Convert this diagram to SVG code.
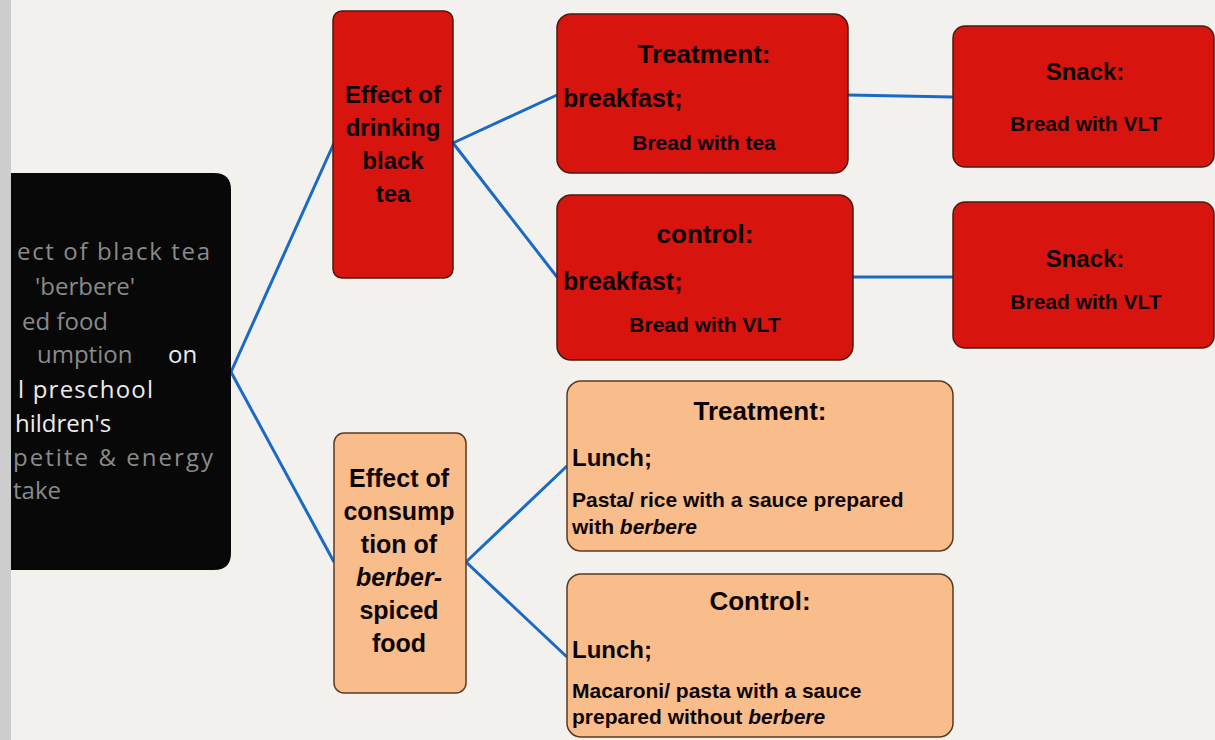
<svg xmlns="http://www.w3.org/2000/svg" width="1215" height="740" viewBox="0 0 1215 740">
<defs>
<style>
.bg{fill:#f3f1ed}
.red{fill:#d8140f;stroke:#4a1a12;stroke-width:1.5}
.org{fill:#f9bd8c;stroke:#5a3a22;stroke-width:1.5}
.t{font-family:"Liberation Sans",Arial,sans-serif;font-weight:bold;fill:#0d0505}
.c{text-anchor:middle}
.w{font-family:"Open Sans","DejaVu Sans",sans-serif;font-size:24px;fill:#8a8a8a}
.wb{fill:#ececec}
.con{stroke:#1a6ac4;stroke-width:3;fill:none}
</style>
</defs>
<rect class="bg" x="0" y="0" width="1215" height="740"/>
<rect x="0" y="0" width="11" height="740" fill="#cdcdcd"/>
<g id="connectors">
<line class="con" x1="231" y1="372" x2="334" y2="143"/>
<line class="con" x1="231" y1="372" x2="334" y2="562"/>
<line class="con" x1="453" y1="143" x2="557" y2="95"/>
<line class="con" x1="453" y1="143" x2="557" y2="277"/>
<line class="con" x1="848" y1="95" x2="953" y2="97"/>
<line class="con" x1="853" y1="277" x2="953" y2="277"/>
<line class="con" x1="466" y1="562" x2="567" y2="466"/>
<line class="con" x1="466" y1="562" x2="567" y2="657"/>
</g>
<g id="root">
<path d="M11 173 H214 Q231 173 231 190 V553 Q231 570 214 570 H11 Z" fill="#080808"/>
<text class="w" x="17" y="260" textLength="193">ect of black tea</text>
<text class="w" x="35" y="295">'berbere'</text>
<text class="w" x="22" y="330">ed food</text>
<text class="w" x="37" y="363">umption</text>
<text class="w wb" x="168" y="363">on</text>
<text class="w wb" x="18" y="398" textLength="135">l preschool</text>
<text class="w wb" x="15" y="432">hildren's</text>
<text class="w" x="13" y="466" textLength="200">petite &amp; energy</text>
<text class="w" x="13" y="499">take</text>
</g>
<g id="tea">
<rect class="red" x="333" y="11" width="120" height="267" rx="9"/>
<text class="t c" x="393" y="103" font-size="24">Effect of</text>
<text class="t c" x="393" y="136" font-size="24">drinking</text>
<text class="t c" x="393" y="169" font-size="24">black</text>
<text class="t c" x="393" y="202" font-size="24">tea</text>
</g>
<g id="tea-treatment">
<rect class="red" x="557" y="14" width="291" height="159" rx="14"/>
<text class="t c" x="704" y="63" font-size="26">Treatment:</text>
<text class="t" x="563" y="107" font-size="25">breakfast;</text>
<text class="t c" x="704" y="150" font-size="21">Bread with tea</text>
</g>
<g id="tea-control">
<rect class="red" x="557" y="195" width="296" height="165" rx="14"/>
<text class="t c" x="705" y="243" font-size="26">control:</text>
<text class="t" x="563" y="290" font-size="25">breakfast;</text>
<text class="t c" x="705" y="332" font-size="21">Bread with VLT</text>
</g>
<g id="snack-1">
<rect class="red" x="953" y="26" width="261" height="141" rx="12"/>
<text class="t c" x="1085" y="80" font-size="24">Snack:</text>
<text class="t c" x="1086" y="131" font-size="21">Bread with VLT</text>
</g>
<g id="snack-2">
<rect class="red" x="953" y="202" width="261" height="146" rx="12"/>
<text class="t c" x="1085" y="267" font-size="24">Snack:</text>
<text class="t c" x="1086" y="309" font-size="21">Bread with VLT</text>
</g>
<g id="berbere">
<rect class="org" x="334" y="433" width="132" height="260" rx="10"/>
<text class="t c" x="399" y="487" font-size="25">Effect of</text>
<text class="t c" x="399" y="520" font-size="25">consump</text>
<text class="t c" x="399" y="553" font-size="25">tion of</text>
<text class="t c" x="399" y="586" font-size="25" font-style="italic">berber-</text>
<text class="t c" x="399" y="619" font-size="25">spiced</text>
<text class="t c" x="399" y="652" font-size="25">food</text>
</g>
<g id="lunch-treatment">
<rect class="org" x="567" y="381" width="386" height="170" rx="14"/>
<text class="t c" x="760" y="420" font-size="26">Treatment:</text>
<text class="t" x="572" y="466" font-size="24">Lunch;</text>
<text class="t" x="572" y="507" font-size="21">Pasta/ rice with a sauce prepared</text>
<text class="t" x="572" y="534" font-size="21">with <tspan font-style="italic">berbere</tspan></text>
</g>
<g id="lunch-control">
<rect class="org" x="567" y="574" width="386" height="163" rx="14"/>
<text class="t c" x="760" y="610" font-size="26">Control:</text>
<text class="t" x="572" y="658" font-size="24">Lunch;</text>
<text class="t" x="572" y="698" font-size="21">Macaroni/ pasta with a sauce</text>
<text class="t" x="572" y="724" font-size="21">prepared without <tspan font-style="italic">berbere</tspan></text>
</g>
</svg>
